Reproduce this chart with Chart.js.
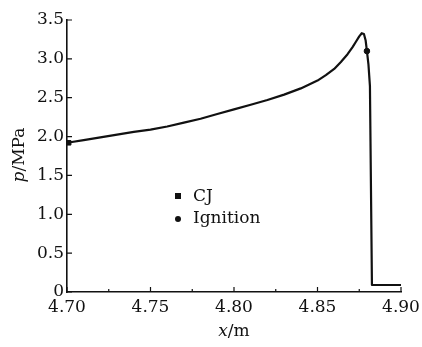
<!DOCTYPE html>
<html>
<head>
<meta charset="utf-8">
<script src="https://cdn.jsdelivr.net/npm/chart.js@4"></script>
<style>
  html, body { margin: 0; padding: 0; background: #fff; }
  #wrap { width: 422px; height: 347px; }
</style>
</head>
<body>
<div id="wrap"><canvas id="pressureChart" width="422" height="347"></canvas></div>
<script>
// pressure profile along the tube
var xValues = [4.700, 4.710, 4.720, 4.730, 4.740, 4.750, 4.760, 4.770, 4.780, 4.790, 4.800, 4.810, 4.820, 4.830, 4.840, 4.845, 4.850, 4.855, 4.860, 4.864, 4.868, 4.871, 4.873, 4.875, 4.8765, 4.8778, 4.8788, 4.8796, 4.8805, 4.8814, 4.8826, 4.900];
var pValues = [1.92, 1.955, 1.99, 2.025, 2.06, 2.09, 2.13, 2.18, 2.23, 2.29, 2.35, 2.41, 2.47, 2.54, 2.62, 2.67, 2.72, 2.79, 2.87, 2.96, 3.06, 3.15, 3.22, 3.29, 3.33, 3.32, 3.24, 3.10, 2.93, 2.65, 0.09, 0.09];

var cjPoint = [4.701, 1.92];
var ignitionPoint = [4.8796, 3.10];

var xTicks = [4.70, 4.75, 4.80, 4.85, 4.90];
var xMinorTicks = [4.725, 4.775, 4.825, 4.875];
var yTicks = [0, 0.5, 1.0, 1.5, 2.0, 2.5, 3.0, 3.5];

var FONT = "'DejaVu Serif', serif";
var INK = "#111";

var curve = [];
for (var i = 0; i < xValues.length; i++) {
    curve.push({ x: xValues[i], y: pValues[i] });
}

// ticks pointing into the plot, plus axis titles and the little legend
var decorations = {
    id: 'decorations',
    afterDraw: function (chart) {
        var ctx = chart.ctx;
        var xs = chart.scales.x, ys = chart.scales.y;
        var area = chart.chartArea;
        ctx.save();
        ctx.strokeStyle = INK;
        ctx.lineWidth = 1.2;
        ctx.beginPath();
        xTicks.forEach(function (v) {
            var px = xs.getPixelForValue(v);
            ctx.moveTo(px, area.bottom); ctx.lineTo(px, area.bottom - 5);
        });
        xMinorTicks.forEach(function (v) {
            var px = xs.getPixelForValue(v);
            ctx.moveTo(px, area.bottom); ctx.lineTo(px, area.bottom - 3);
        });
        yTicks.forEach(function (v) {
            var py = ys.getPixelForValue(v);
            ctx.moveTo(area.left, py); ctx.lineTo(area.left + 5, py);
        });
        ctx.stroke();

        ctx.fillStyle = INK;
        // x title: italic x, roman /m
        ctx.textBaseline = 'middle';
        ctx.font = "italic 17px " + FONT;
        var w1 = ctx.measureText('x').width;
        ctx.font = "17px " + FONT;
        var w2 = ctx.measureText('/m').width;
        var cx = (area.left + area.right) / 2 - (w1 + w2) / 2;
        ctx.textAlign = 'left';
        ctx.font = "italic 17px " + FONT;
        ctx.fillText('x', cx, 332);
        ctx.font = "17px " + FONT;
        ctx.fillText('/m', cx + w1, 332);

        // y title rotated
        ctx.save();
        ctx.translate(20, 155);
        ctx.rotate(-Math.PI / 2);
        ctx.font = "italic 17px " + FONT;
        var w3 = ctx.measureText('p').width;
        ctx.font = "17px " + FONT;
        var w4 = ctx.measureText('/MPa').width;
        var sx = -(w3 + w4) / 2;
        ctx.font = "italic 17px " + FONT;
        ctx.fillText('p', sx, 0);
        ctx.font = "17px " + FONT;
        ctx.fillText('/MPa', sx + w3, 0);
        ctx.restore();

        // legend
        ctx.font = "17px " + FONT;
        ctx.fillRect(175, 193, 6, 6);
        ctx.fillText(chart.data.datasets[1].label, 193, 197);
        ctx.beginPath();
        ctx.arc(178, 219, 3, 0, Math.PI * 2);
        ctx.fill();
        ctx.fillText(chart.data.datasets[2].label, 193, 219);
        ctx.restore();
    }
};

var ctx = document.getElementById("pressureChart");
var myChart = new Chart(ctx, {
    type: 'scatter',
    data: {
        datasets: [
            {
                data: curve,
                label: "p",
                showLine: true,
                borderColor: INK,
                borderWidth: 2.2,
                pointRadius: 0,
                tension: 0,
                borderJoinStyle: 'round',
                fill: false
            },
            {
                data: [{ x: cjPoint[0], y: cjPoint[1] }],
                label: "CJ",
                pointStyle: 'rect',
                pointRadius: 3.2,
                backgroundColor: INK,
                borderColor: INK
            },
            {
                data: [{ x: ignitionPoint[0], y: ignitionPoint[1] }],
                label: "Ignition",
                pointStyle: 'circle',
                pointRadius: 2.8,
                backgroundColor: INK,
                borderColor: INK
            }
        ]
    },
    options: {
        responsive: false,
        animation: false,
        devicePixelRatio: 1,
        layout: { padding: { top: 20, right: 21, left: 0, bottom: 0 } },
        plugins: {
            legend: { display: false },
            tooltip: { enabled: false }
        },
        scales: {
            x: {
                type: 'linear',
                min: 4.70,
                max: 4.90,
                afterBuildTicks: function (axis) {
                    axis.ticks = xTicks.map(function (v) { return { value: v }; });
                },
                afterFit: function (axis) {
                    axis.height = 55;
                    axis.paddingLeft = 0;
                    axis.paddingRight = 0;
                },
                ticks: {
                    color: INK,
                    font: { family: FONT, size: 17 },
                    padding: 5,
                    maxRotation: 0,
                    callback: function (v) { return v.toFixed(2); }
                },
                grid: { display: false, drawTicks: false },
                border: { display: true, color: INK, width: 1.6 }
            },
            y: {
                min: 0,
                max: 3.5,
                afterBuildTicks: function (axis) {
                    axis.ticks = yTicks.map(function (v) { return { value: v }; });
                },
                afterFit: function (axis) {
                    axis.width = 67;
                    axis.paddingTop = 0;
                    axis.paddingBottom = 0;
                },
                ticks: {
                    color: INK,
                    font: { family: FONT, size: 17 },
                    padding: 3,
                    callback: function (v) { return v === 0 ? "0" : v.toFixed(1); }
                },
                grid: { display: false, drawTicks: false },
                border: { display: true, color: INK, width: 1.6 }
            }
        }
    },
    plugins: [decorations]
});
</script>
</body>
</html>
